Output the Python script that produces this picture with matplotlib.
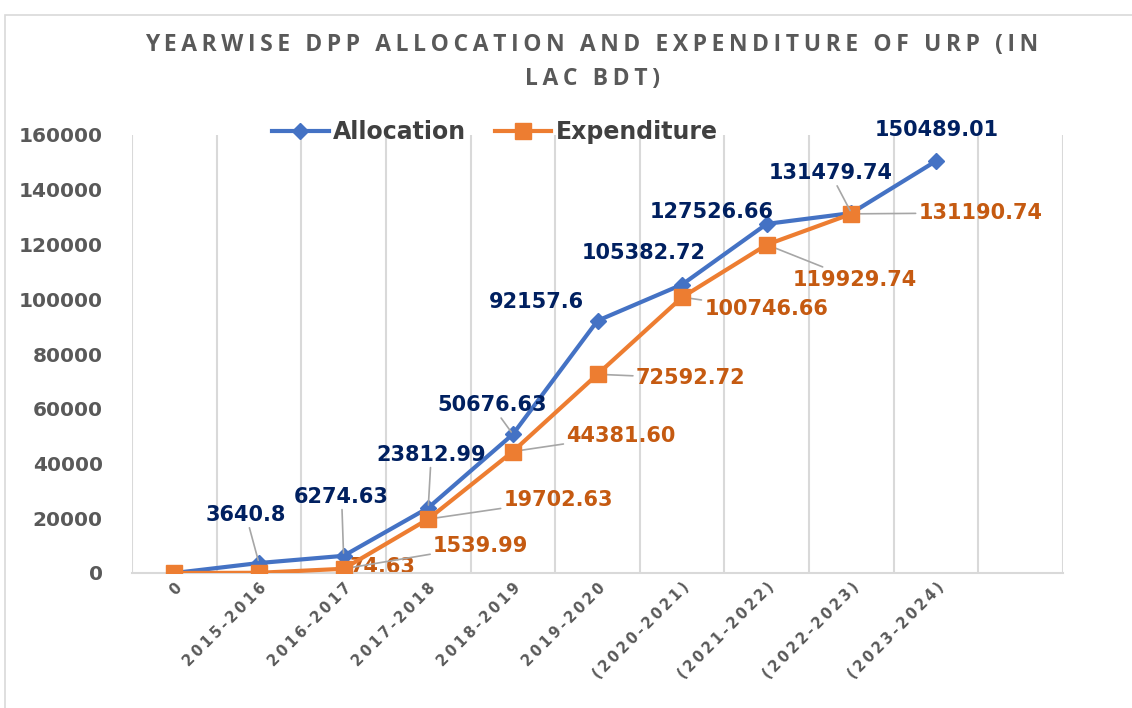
'''
Yearwise DPP allocation and expenditure of URP (in lac BDT)
'''

#import
import matplotlib
matplotlib.use('Agg')
import matplotlib.pyplot as plt
from matplotlib.patches import Rectangle

#------
#data
years = ['0', '2015-2016', '2016-2017', '2017-2018', '2018-2019', '2019-2020',
         '(2020-2021)', '(2021-2022)', '(2022-2023)', '(2023-2024)']
allocation = [0, 3640.8, 6274.63, 23812.99, 50676.63, 92157.6,
              105382.72, 127526.66, 131479.74, 150489.01]
expenditure = [0, 74.63, 1539.99, 19702.63, 44381.60, 72592.72,
               100746.66, 119929.74, 131190.74]
alloc_labels = ['', '3640.8', '6274.63', '23812.99', '50676.63', '92157.6',
                '105382.72', '127526.66', '131479.74', '150489.01']
exp_labels = ['', '74.63', '1539.99', '19702.63', '44381.60', '72592.72',
              '100746.66', '119929.74', '131190.74']
title = 'YEARWISE DPP ALLOCATION AND EXPENDITURE OF URP (IN\nLAC BDT)'

#------
#label placement (offset in pixels from the point, leader line on/off)
alloc_off = [(0, 0), (-13, 48), (-2, 59), (3, 53), (-21, 29), (-61, 19),
             (-38, 32), (-55, 12), (-21, 40), (1, 31)]
alloc_leader = [False, True, True, True, True, False, False, False, True, False]
exp_off = [(0, 0), (124, 6), (137, 23), (130, 19), (108, 16), (93, -4),
           (84, -12), (88, -35), (129, 1)]

blue = '#4472C4'
orange = '#ED7D31'
grey = '#595959'
leader_col = '#A6A6A6'
THIN = '\u2009'


def spaced(s):
    #fake the letter spacing used in the original chart
    return '\n'.join(THIN.join(line) for line in s.split('\n'))


plt.rcParams['font.family'] = ['DejaVu Sans']
plt.rcParams['font.weight'] = 'bold'

fig = plt.figure(figsize=(11.32, 7.08), dpi=100)
ax = fig.add_axes([132/1132, 1 - 573/708, 931/1132, 438/708])

#chart border
fig.patches.append(Rectangle((5/1132, -0.05), 1.1, 1 - 15/708 + 0.05,
                             transform=fig.transFigure, fill=False,
                             edgecolor='#D9D9D9', lw=1.2))

x = list(range(len(years)))
ax.plot(x, allocation, color=blue, lw=3, marker='D', markersize=8.5,
        label='Allocation', zorder=3)
ax.plot(x[:len(expenditure)], expenditure, color=orange, lw=3, marker='s',
        markersize=12, label='Expenditure', zorder=3)

#------
#data labels
for i, (v, t) in enumerate(zip(allocation, alloc_labels)):
    if not t:
        continue
    ap = None
    if alloc_leader[i]:
        ap = dict(arrowstyle='-', color=leader_col, lw=1.2, shrinkA=0, shrinkB=2)
    ax.annotate(t, (i, v), xytext=alloc_off[i], textcoords='offset pixels',
                ha='center', va='center', fontsize=15, fontweight='bold',
                color='#002060', arrowprops=ap, zorder=4)

for i, (v, t) in enumerate(zip(expenditure, exp_labels)):
    if not t:
        continue
    ap = dict(arrowstyle='-', color=leader_col, lw=1.2, shrinkA=0, shrinkB=2)
    ax.annotate(t, (i, v), xytext=exp_off[i], textcoords='offset pixels',
                ha='center', va='center', fontsize=15, fontweight='bold',
                color='#C55A11', arrowprops=ap, zorder=2)

#------
#axes styling
ax.set_xlim(-0.5, 10.5)
ax.set_ylim(0, 160000)
ax.set_yticks(range(0, 160001, 20000))
ax.tick_params(axis='y', length=0, pad=21, labelsize=14.5, labelcolor=grey)
ax.set_xticks(x)
ax.set_xticklabels([spaced(y) for y in years], rotation=45, ha='right',
                   rotation_mode='anchor')
ax.tick_params(axis='x', length=0, pad=5, labelsize=10.5, labelcolor=grey)
ax.set_xticks([k - 0.5 for k in range(12)], minor=True)
ax.tick_params(axis='x', which='minor', length=0)
ax.grid(axis='x', which='minor', color='#D9D9D9', lw=1.5)
for s in ['top', 'right', 'left']:
    ax.spines[s].set_visible(False)
ax.spines['bottom'].set_color('#D9D9D9')
ax.spines['bottom'].set_linewidth(1.5)

leg = ax.legend(loc='center', bbox_to_anchor=(0.39, 1.007), ncol=2,
                frameon=False, fontsize=17, handlelength=2.4,
                columnspacing=1.2, handletextpad=0.2)
for txt in leg.get_texts():
    txt.set_color('#404040')

fig.text(592/1132, 1 - 62/708, spaced(title),
         ha='center', va='center', fontsize=16.5, fontweight='bold',
         family=['Open Sans', 'DejaVu Sans'], color=grey, linespacing=1.6)

fig.savefig('out.png', dpi=100)
